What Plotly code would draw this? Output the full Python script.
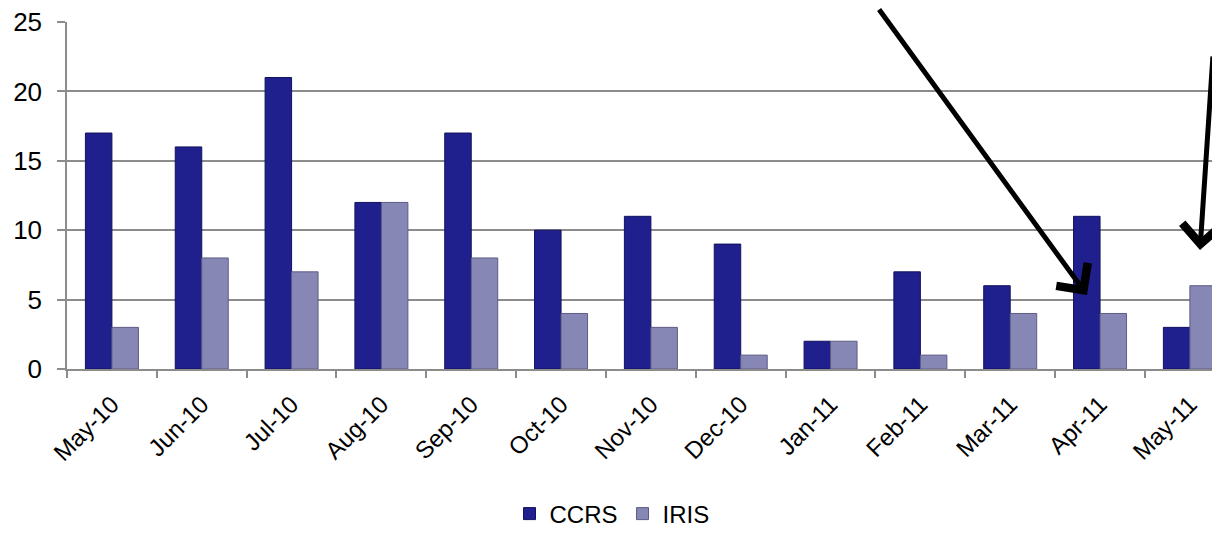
import plotly.graph_objects as go

months = ["May-10", "Jun-10", "Jul-10", "Aug-10", "Sep-10", "Oct-10", "Nov-10",
          "Dec-10", "Jan-11", "Feb-11", "Mar-11", "Apr-11", "May-11"]
ccrs = [17, 16, 21, 12, 17, 10, 11, 9, 2, 7, 6, 11, 3]
iris = [3, 8, 7, 12, 8, 4, 3, 1, 2, 1, 4, 4, 6]
y_ticks = [0, 5, 10, 15, 20, 25]

# page has an 8px body margin; the visible area ends about 8px before the window edge
OFF = 8
W, H = 1220 - OFF, 540 - 2 * OFF
L, T = 67 - OFF, 22 - OFF
R = OFF
B = H - T - 347
pw, ph = W - L - R, H - T - B
step = 89.83                     # reference pixels per category
x_max = pw / step - 0.5

def px(x, y):
    # window pixel -> paper coords
    return (x - OFF - L) / pw, (H - B - (y - OFF)) / ph

fig = go.Figure()
fig.add_trace(go.Bar(name="CCRS", x=months, y=ccrs,
                     marker=dict(color="#1f1f8e", line=dict(color="#12125e", width=1))))
fig.add_trace(go.Bar(name="IRIS", x=months, y=iris,
                     marker=dict(color="#8787b6", line=dict(color="#5c5c85", width=1))))

font = "Liberation Sans, Arial, sans-serif"
lx, ly = px(612, 514)
fig.update_layout(
    width=W, height=H,
    margin=dict(l=L, r=R, t=T, b=B, autoexpand=False),
    plot_bgcolor="white", paper_bgcolor="white",
    barmode="group", bargap=0.41, bargroupgap=0,
    font=dict(family=font, size=20, color="black"),
    showlegend=True,
    legend=dict(orientation="h", x=lx, xanchor="center", y=ly, yanchor="middle",
                font=dict(size=24), itemwidth=30, traceorder="normal"),
    xaxis=dict(range=[-0.5, x_max], showline=True, linecolor="#8c8c8c", linewidth=1.5,
               ticks="outside", ticklen=7, tickcolor="#8c8c8c", tickwidth=1.5,
               tickson="boundaries", tickangle=-45, tickfont=dict(size=24),
               ticklabelstandoff=10, showgrid=False, fixedrange=True,
               ticklabeloverflow="allow"),
    yaxis=dict(range=[0, 25], tickvals=y_ticks, showgrid=True, gridcolor="#8c8c8c",
               gridwidth=1.5, showline=True, linecolor="#8c8c8c", linewidth=1.5,
               ticks="outside", ticklen=8, tickcolor="#8c8c8c", tickwidth=1.5,
               tickfont=dict(size=26), zeroline=False, ticklabelstandoff=10,
               ticklabeloverflow="allow"),
)

# arrows (annotations positioned in window pixel space)
for (tx, ty), (sx, sy) in [((1087, 295), (878, -6)), ((1200, 250), (1213, 55))]:
    x, y = px(tx, ty)
    fig.add_annotation(xref="paper", yref="paper", x=x, y=y, ax=sx - tx, ay=sy - ty,
                       axref="pixel", ayref="pixel", showarrow=True, arrowhead=4,
                       arrowsize=1.5, arrowwidth=5, arrowcolor="black", text="")

fig.write_html("out.html")
